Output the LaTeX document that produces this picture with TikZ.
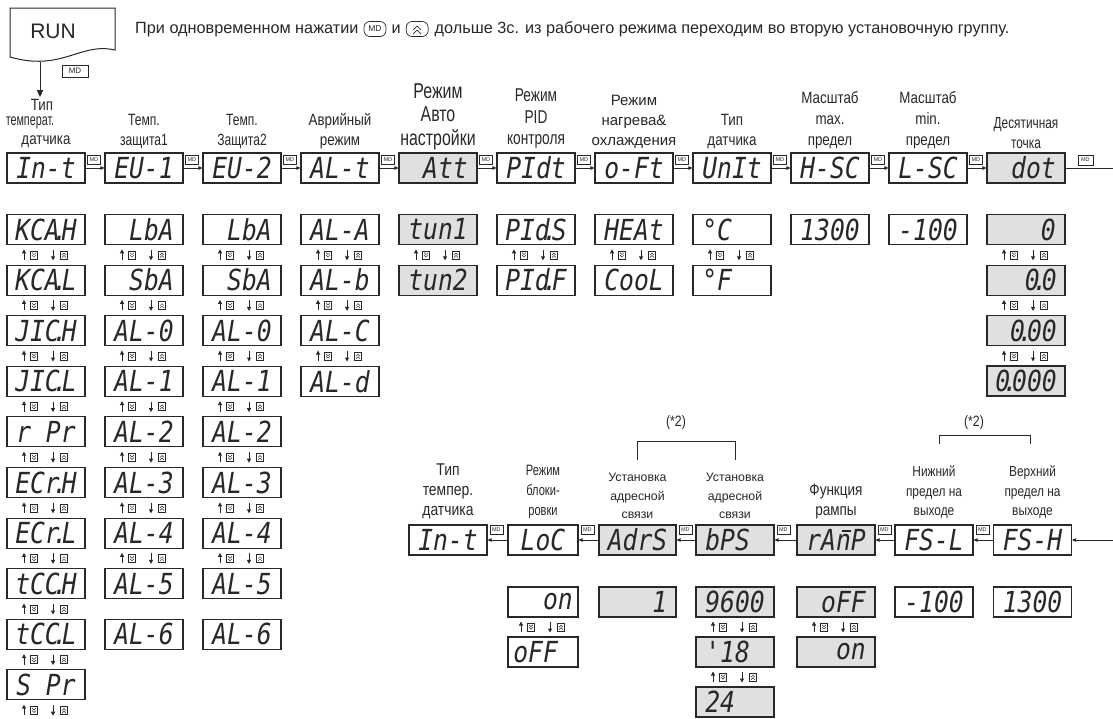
\documentclass[tikz,border=0pt]{standalone}
\usepackage{fontspec}
\setmainfont{Liberation Sans}
\newfontfamily\fa{Liberation Sans}[FakeStretch=0.66]
\newfontfamily\fb{Liberation Sans}[FakeStretch=0.74]
\newfontfamily\fc{Liberation Sans}[FakeStretch=0.82]
\newfontfamily\segf{DejaVu Sans Mono}[FakeStretch=0.85]
\usetikzlibrary{arrows.meta}
\definecolor{lcd}{RGB}{224,224,224}
\definecolor{ink}{RGB}{40,40,40}
\newcommand\bl{\hphantom{0}}
\newcommand\dpt{\kern-0.24em.\kern-0.2em}
\newcommand\nbar{\makebox[0pt][l]{\kern0.22em\rule[0.64em]{0.3em}{0.07em}}n}
\newcommand\fsz[2]{\fontsize{#1}{#2}\selectfont}
\tikzset{
  disp/.style={draw=ink, line width=1.1pt, minimum width=78pt, minimum height=30pt, inner sep=0pt, text=ink,
    font=\segf\itshape\fsz{29}{29}},
  g/.style={fill=lcd},
  md/.style={draw=ink, line width=0.5pt, minimum width=13pt, minimum height=9pt, inner sep=0pt, text=ink,
    font=\fsz{5.5}{6}},
  conn/.style={draw=ink, line width=0.8pt, -{Triangle[length=4pt,width=3.5pt]}},
  hd/.style={anchor=south, align=center, inner sep=0pt, text=ink},
  hl/.style={inner sep=0pt, text=ink},
  updn/.pic={
    \draw[ink, line width=1pt, -{Triangle[length=4pt,width=4pt]}] (-22,5) -- (-22,-5.5);
    \draw[ink, line width=0.6pt] (-15.5,-4) rectangle (-8.5,4);
    \draw[ink, line width=0.5pt] (-14,-2.2) -- (-12,-0.2) -- (-10,-2.2) (-14,0.3) -- (-12,2.3) -- (-10,0.3);
    \draw[ink, line width=1pt, -{Triangle[length=4pt,width=4pt]}] (7,-5) -- (7,5.5);
    \draw[ink, line width=0.6pt] (14.5,-4) rectangle (21.5,4);
    \draw[ink, line width=0.5pt] (16,0.2) -- (18,-1.8) -- (20,0.2) (16,2.7) -- (18,0.7) -- (20,2.7);
  }
}
\begin{document}
\begin{tikzpicture}[x=1pt,y=-1pt]
\useasboundingbox[fill=white] (0,0) rectangle (1113,718);

% RUN block
\draw[ink, line width=1pt] (10,57) -- (10,8) -- (115,8) -- (115,50) .. controls (80,42) and (62,72) .. (10,57);
\node[text=ink, font=\fsz{21}{21}] (run) at (53,31) {RUN};
\coordinate (runb) at (40,62);
\node[draw=ink, line width=0.6pt, minimum width=26pt, minimum height=12pt, inner sep=0pt, text=ink, font=\fsz{8}{8}] (mdrun) at (75,71) {MD};

% note
\node[anchor=west, inner sep=0pt, text height=11.5pt, text depth=3.5pt, text=ink, font=\fsz{16.25}{18}] (n1) at (135,29) {При одновременном нажатии};
\node[anchor=west, draw=ink, line width=0.7pt, rounded corners=6pt, minimum width=22pt, minimum height=15pt, inner sep=0pt, text=ink, font=\fsz{8.5}{9}] (nmd) at ([xshift=5pt]n1.east) {MD};
\node[anchor=west, inner sep=0pt, text height=11.5pt, text depth=3.5pt, text=ink, font=\fsz{16.25}{18}] (n2) at ([xshift=5pt]nmd.east) {и};
\node[anchor=west, draw=ink, line width=0.7pt, rounded corners=6pt, minimum width=22pt, minimum height=15pt, inner sep=0pt] (nup) at ([xshift=5pt]n2.east) {};
\draw[ink, line width=0.7pt] ([shift={(-4,1)}]nup.center) -- ++(4,-4) -- ++(4,4) ([shift={(-4,5)}]nup.center) -- ++(4,-4) -- ++(4,4);
\node[anchor=west, inner sep=0pt, text height=11.5pt, text depth=3.5pt, text=ink, font=\fsz{16.25}{18}] (n3) at ([xshift=6pt]nup.east) {дольше 3с. из рабочего режима переходим во вторую установочную группу.};

% top headers
\node[hl, font=\fc\fsz{16.3}{20}] (h0a) at (42,105) {Тип};
\node[hl, font=\fa\fsz{16.3}{20}] (h0b) at (30,123) {температ.};
\node[hl, font=\fc\fsz{16.3}{20}] (h0c) at (46,142) {датчика};
\node[hd, font=\fb\fsz{16.3}{20}] (h1) at (144,149) {Темп.\\защита1};
\node[hd, font=\fb\fsz{16.3}{20}] (h2) at (242,149) {Темп.\\Защита2};
\node[hd, font=\fc\fsz{16.3}{20}] (h3) at (340,149) {Аврийный\\режим};
\node[hd, font=\fb\fsz{21.5}{23.5}] (h4) at (438,150) {Режим\\Авто\\настройки};
\node[hd, font=\fb\fsz{18.5}{21.5}] (h5) at (536,149) {Режим\\PID\\контроля};
\node[hd, font=\fsz{15}{20}] (h6) at (634,149) {Режим\\нагрева\&\\охлаждения};
\node[hd, font=\fc\fsz{16.3}{20}] (h7) at (732,149) {Тип\\датчика};
\node[hd, font=\fc\fsz{16.3}{21}] (h8) at (830,149) {Масштаб\\max.\\предел};
\node[hd, font=\fc\fsz{16.3}{21}] (h9) at (928,149) {Масштаб\\min.\\предел};
\node[hd, font=\fb\fsz{16}{20}] (h10) at (1026,149) {Десятичная\\точка};

\draw[ink, line width=1pt, -{Triangle[length=7pt,width=6pt]}] (runb) -- ([yshift=2pt]runb |- h0a.north);

% top row
\node[disp] (t0) at (46,168) {In-t};
\node[disp] (t1) at (144,168) {EU-1};
\node[disp] (t2) at (242,168) {EU-2};
\node[disp] (t3) at (340,168) {AL-t};
\node[disp,g] (t4) at (438,168) {\bl Att};
\node[disp] (t5) at (536,168) {PIdt};
\node[disp] (t6) at (634,168) {o-Ft};
\node[disp] (t7) at (732,168) {UnIt};
\node[disp] (t8) at (830,168) {H-SC};
\node[disp] (t9) at (928,168) {L-SC};
\node[disp,g] (t10) at (1026,168) {\bl dot};
\foreach \a/\b in {t0/t1,t1/t2,t2/t3,t3/t4,t4/t5,t5/t6,t6/t7,t7/t8,t8/t9,t9/t10}{
  \draw[conn] (\a.east) -- (\b.west);
  \node[md, anchor=south west] (m\a) at ([xshift=1.5pt,yshift=3.5pt]\a.east) {MD};
}
\coordinate (outR) at (1113,168);
\draw[ink, line width=0.8pt] (t10.east) -- (outR);
\node[md, minimum width=15pt, minimum height=10pt, anchor=south west] (mt10) at ([xshift=12pt,yshift=3pt]t10.east) {MD};

% column 1
\foreach \t [count=\i from 0] in {KCA\dpt H, KCA\dpt L, JIC\dpt H, JIC\dpt L, r\bl Pr, ECr\dpt H, ECr\dpt L, tCC\dpt H, tCC\dpt L, S\bl Pr}{
  \node[disp] (c0r\i) at (46,229.5+50.6*\i) {\t};
  \pic at (46,254.8+50.6*\i) {updn};
}
% columns 2 and 3
\foreach \cx/\cn in {144/1,242/2}{
  \foreach \t [count=\i from 0] in {\bl LbA, \bl SbA, AL-0, AL-1, AL-2, AL-3, AL-4, AL-5, AL-6}{
    \node[disp] (c\cn r\i) at (\cx,229.5+50.6*\i) {\t};
  }
  \foreach \i in {0,...,6} \pic at (\cx,254.8+50.6*\i) {updn};
}
% column 4
\foreach \t [count=\i from 0] in {AL-A, AL-b, AL-C, AL-d}{
  \node[disp] (c3r\i) at (340,229.5+50.6*\i) {\t};
}
\foreach \i in {0,1,2} \pic at (340,254.8+50.6*\i) {updn};
% columns 5-8
\node[disp,g] (c4r0) at (438,229.5) {tun1};
\node[disp,g] (c4r1) at (438,280.1) {tun2};
\pic at (438,254.8) {updn};
\node[disp] (c5r0) at (536,229.5) {PId\dpt S};
\node[disp] (c5r1) at (536,280.1) {PId\dpt F};
\pic at (536,254.8) {updn};
\node[disp] (c6r0) at (634,229.5) {HEAt};
\node[disp] (c6r1) at (634,280.1) {CooL};
\pic at (634,254.8) {updn};
\node[disp] (c7r0) at (732,229.5) {°C\bl\bl};
\node[disp] (c7r1) at (732,280.1) {°F\bl\bl};
\pic at (732,254.8) {updn};
\node[disp] (c8r0) at (830,229.5) {1300};
\node[disp] (c9r0) at (928,229.5) {-100};
% column 11
\node[disp,g] (c10r0) at (1026,229.5) {\bl\bl\bl 0};
\node[disp,g] (c10r1) at (1026,280.1) {\bl\bl 0\dpt 0};
\node[disp,g] (c10r2) at (1026,330.7) {\bl 0\dpt 00};
\node[disp,g,line width=1.8pt] (c10r3) at (1026,381.3) {0\dpt 000};
\foreach \i in {0,1,2} \pic at (1026,254.8+50.6*\i) {updn};

% bottom headers
\node[hd, font=\fc\fsz{17}{20}] (g0) at (448,519) {Тип\\темпер.\\датчика};
\node[hd, font=\fb\fsz{15}{20}] (g1) at (543,519) {Режим\\блоки-\\ровки};
\node[hd, font=\fsz{12.3}{18.5}] (g2) at (637.5,519) {Установка\\адресной\\связи};
\node[hd, font=\fsz{12.3}{18.5}] (g3) at (735,519) {Установка\\адресной\\связи};
\node[hd, font=\fc\fsz{16.5}{20}] (g4) at (836,519) {Функция\\рампы};
\node[hd, font=\fc\fsz{14.5}{19.5}] (g5) at (934,519) {Нижний\\предел на\\выходе};
\node[hd, font=\fc\fsz{14.5}{19.5}] (g6) at (1032.5,519) {Верхний\\предел на\\выходе};

% bottom row
\node[disp] (b0) at (448,540) {In-t};
\node[disp, minimum width=70pt] (b1) at (543,540) {LoC};
\node[disp,g, minimum width=77pt] (b2) at (637.5,540) {AdrS};
\node[disp,g] (b3) at (735,540) {bPS\bl};
\node[disp,g] (b4) at (836,540) {rA\nbar P};
\node[disp] (b5) at (934,540) {FS-L};
\node[disp] (b6) at (1032.5,540) {FS-H};
\coordinate (inR) at (1113,540);
\draw[conn] (inR) -- (b6.east);
\foreach \a/\b in {b6/b5,b5/b4,b4/b3,b3/b2,b2/b1,b1/b0}{
  \draw[conn] (\a.west) -- (\b.east);
  \node[md, anchor=south west] (m\b) at ([xshift=2pt,yshift=6pt]\b.east) {MD};
}

% bottom values
\node[disp, minimum width=70pt] (v1a) at (543,602) {\bl\bl on};
\node[disp, minimum width=70pt] (v1b) at (543,652) {oFF\bl};
\pic at (543,627) {updn};
\node[disp,g, minimum width=77pt] (v2a) at (637.5,602) {\bl\bl\bl 1};
\node[disp,g] (v3a) at (735,602) {9600};
\node[disp,g] (v3b) at (735,652) {'18\bl};
\node[disp,g] (v3c) at (735,702) {24\bl\bl};
\pic at (735,627) {updn};
\pic at (735,677) {updn};
\node[disp,g] (v4a) at (836,602) {\bl oFF};
\node[disp,g] (v4b) at (836,652) {\bl\bl on};
\pic at (836,627) {updn};
\node[disp] (v5a) at (934,602) {-100};
\node[disp] (v6a) at (1032.5,602) {1300};

% brackets
\draw[ink, line width=0.8pt] (b2.north |- 0,460) -- (b2.north |- 0,441) -- (b3.north |- 0,441) -- (b3.north |- 0,460);
\node[text=ink, font=\fc\fsz{15}{15}] (s1) at (676,423) {(*2)};
\draw[ink, line width=0.8pt] (939,444) -- (939,435) -- (1030,435) -- (1030,444);
\node[text=ink, font=\fc\fsz{15}{15}] (s2) at (974,423) {(*2)};
\end{tikzpicture}
\end{document}
